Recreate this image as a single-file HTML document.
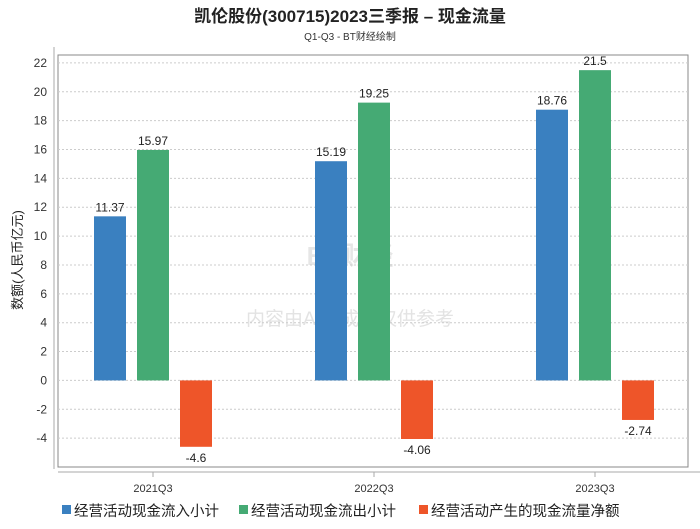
<!DOCTYPE html>
<html><head><meta charset="utf-8"><style>
body{margin:0;background:#fff;font-family:"Liberation Sans","Noto Sans CJK SC",sans-serif}
svg text{font-family:"Liberation Sans","Noto Sans CJK SC",sans-serif}
</style></head><body>
<svg id="c" width="700" height="524">
<text x="350" y="22" text-anchor="middle" font-size="17" font-weight="bold" fill="#222">凯伦股份(300715)2023三季报 – 现金流量</text>
<text x="350" y="40" text-anchor="middle" font-size="10" fill="#333">Q1-Q3 - BT财经绘制</text>
<text x="350" y="265" text-anchor="middle" font-size="26" font-weight="bold" fill="#e6e6e6">BT财经</text>
<text x="350" y="325" text-anchor="middle" font-size="19" fill="#e3e3e3">内容由AI生成，仅供参考</text>
<g id="grid"></g><g id="bars"></g>
<text transform="translate(22,260) rotate(-90)" text-anchor="middle" font-size="13" fill="#222">数额(人民币亿元)</text>
<g id="legend"></g>
</svg>
<script>
const categories=["2021Q3","2022Q3","2023Q3"];
const seriesNames=["经营活动现金流入小计","经营活动现金流出小计","经营活动产生的现金流量净额"];
const inflow=[11.37,15.19,18.76];
const outflow=[15.97,19.25,21.5];
const net=[-4.6,-4.06,-2.74];
const yTicks=[-4,-2,0,2,4,6,8,10,12,14,16,18,20,22];
const colors=["#3a80c0","#45aa74","#ee5529"];
const NS="http://www.w3.org/2000/svg";
const L=58,R=688,T=55,B=467,ymin=-6,ymax=22.55;
const y=v=>B-(v-ymin)/(ymax-ymin)*(B-T);
const xc=i=>153+i*221;
function mk(tag,attrs,parent,text){const e=document.createElementNS(NS,tag);for(const k in attrs)e.setAttribute(k,attrs[k]);if(text!==undefined)e.textContent=text;parent.appendChild(e);return e;}
const g=document.getElementById('grid');
let fr=mk('rect',{x:L,y:T,width:R-L,height:B-T,fill:'none',stroke:'#888'},g);


let ya=mk('line',{x1:54,y1:T-8,x2:54,y2:B+2,stroke:'#aaa'},g);


let xa=mk('line',{x1:L,y1:472,x2:700,y2:472,stroke:'#aaa'},g);


yTicks.forEach(t=>{
 let l=mk('line',{x1:L,y1:y(t),x2:R,y2:y(t),stroke:'#ccc','stroke-dasharray':'2,2'},g);
 
 
 let tx=mk('text',{x:47,y:y(t)+4,'text-anchor':'end','font-size':12,fill:'#333'},g,String(t));
 
 
});
categories.forEach((c,i)=>{
 let tk=mk('line',{x1:xc(i),y1:472,x2:xc(i),y2:477,stroke:'#aaa'},g);
 
 
 let tx=mk('text',{x:xc(i),y:492,'text-anchor':'middle','font-size':11,fill:'#333'},g,c);
 
 
});
const bg=document.getElementById('bars');
[inflow,outflow,net].forEach((s,si)=>{
 s.forEach((v,i)=>{
  const x=xc(i)+(si-1)*43-16;
  const y0=y(0),y1=y(v);
  let r=mk('rect',{x:x,y:Math.min(y0,y1),width:32,height:Math.abs(y1-y0),fill:colors[si]},bg);
  
  
  let lt=mk('text',{x:x+16,y:v>=0?y1-5:y1+15,'text-anchor':'middle','font-size':12,fill:'#222'},bg,String(v));
  
  
 });
});
const lg=document.getElementById('legend');
let lx=62;
const lw=[177,180,230];
seriesNames.forEach((n,i)=>{
 let s=mk('rect',{x:lx,y:505,width:9,height:9,fill:colors[i]},lg);
 
 
 let t=mk('text',{x:lx+12,y:516,'font-size':14.5,fill:'#222'},lg,n);
 
 
 lx+=lw[i];
});
</script>
</body></html>
